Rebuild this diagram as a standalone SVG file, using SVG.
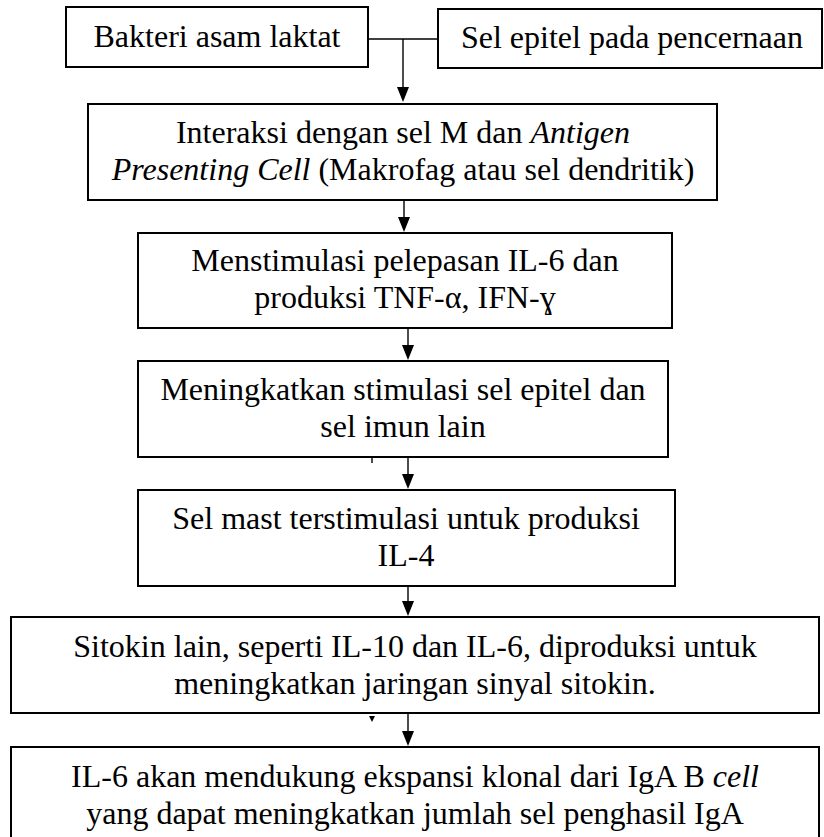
<svg xmlns="http://www.w3.org/2000/svg" width="824" height="837" viewBox="0 0 824 837">
<style>
.box{fill:#fff;stroke:#000;stroke-width:2}
.t{font-family:"Liberation Serif","Times New Roman",serif;font-size:32px;fill:#000;text-anchor:middle}
.i{font-style:italic}
.ln{stroke:#000;stroke-width:1.4;fill:none}
</style>
<defs>
<marker id="ah" markerWidth="12" markerHeight="16" refX="6" refY="15" orient="auto-start-reverse" markerUnits="userSpaceOnUse" viewBox="0 0 12 16">
<path d="M0,0 L12,0 L6,15 Z" fill="#000" transform="rotate(0)"/>
</marker>
</defs>
<rect width="824" height="837" fill="#fff"/>
<g id="connectors">
<path class="ln" d="M368,39 H438"/>
<path class="ln" d="M403,39 V87"/>
<path d="M397,87 L409,87 L403,102 Z" fill="#000"/>
<path class="ln" d="M404,200 V217"/>
<path d="M398,217 L410,217 L404,232 Z" fill="#000"/>
<path class="ln" d="M408,328 V345"/>
<path d="M402,345 L414,345 L408,360 Z" fill="#000"/>
<path class="ln" d="M408,457 V474"/>
<path d="M402,474 L414,474 L408,489 Z" fill="#000"/>
<path class="ln" d="M408,586 V601"/>
<path d="M402,601 L414,601 L408,616 Z" fill="#000"/>
<path class="ln" d="M408,713 V731"/>
<path d="M402,731 L414,731 L408,746 Z" fill="#000"/>
<path class="ln" d="M372,457 V463"/>
<path d="M369,716 L375,716 L372,722 Z" fill="#000"/>
</g>
<g id="n1">
<rect class="box" x="66" y="7" width="302" height="60"/>
<text class="t" x="217" y="47">Bakteri asam laktat</text>
</g>
<g id="n2">
<rect class="box" x="438" y="9" width="384" height="59"/>
<text class="t" x="632" y="48">Sel epitel pada pencernaan</text>
</g>
<g id="n3">
<rect class="box" x="88" y="104" width="629" height="96"/>
<text class="t" x="403" y="143">Interaksi dengan sel M dan <tspan class="i">Antigen</tspan></text>
<text class="t" x="403" y="180"><tspan class="i">Presenting Cell</tspan> (Makrofag atau sel dendritik)</text>
</g>
<g id="n4">
<rect class="box" x="138" y="233" width="534" height="95"/>
<text class="t" x="405" y="271">Menstimulasi pelepasan IL-6 dan</text>
<text class="t" x="405" y="308">produksi TNF-α, IFN-ɣ</text>
</g>
<g id="n5">
<rect class="box" x="138" y="361" width="530" height="96"/>
<text class="t" x="403" y="400">Meningkatkan stimulasi sel epitel dan</text>
<text class="t" x="403" y="437">sel imun lain</text>
</g>
<g id="n6">
<rect class="box" x="138" y="490" width="537" height="96"/>
<text class="t" x="406" y="529">Sel mast terstimulasi untuk produksi</text>
<text class="t" x="406" y="566">IL-4</text>
</g>
<g id="n7">
<rect class="box" x="11" y="617" width="808" height="96"/>
<text class="t" x="415" y="657">Sitokin lain, seperti IL-10 dan IL-6, diproduksi untuk</text>
<text class="t" x="415" y="694">meningkatkan jaringan sinyal sitokin.</text>
</g>
<g id="n8">
<rect class="box" x="11" y="747" width="808" height="100"/>
<text class="t" x="415" y="787">IL-6 akan mendukung ekspansi klonal dari IgA B <tspan class="i">cell</tspan></text>
<text class="t" x="415" y="824">yang dapat meningkatkan jumlah sel penghasil IgA</text>
</g>
</svg>
